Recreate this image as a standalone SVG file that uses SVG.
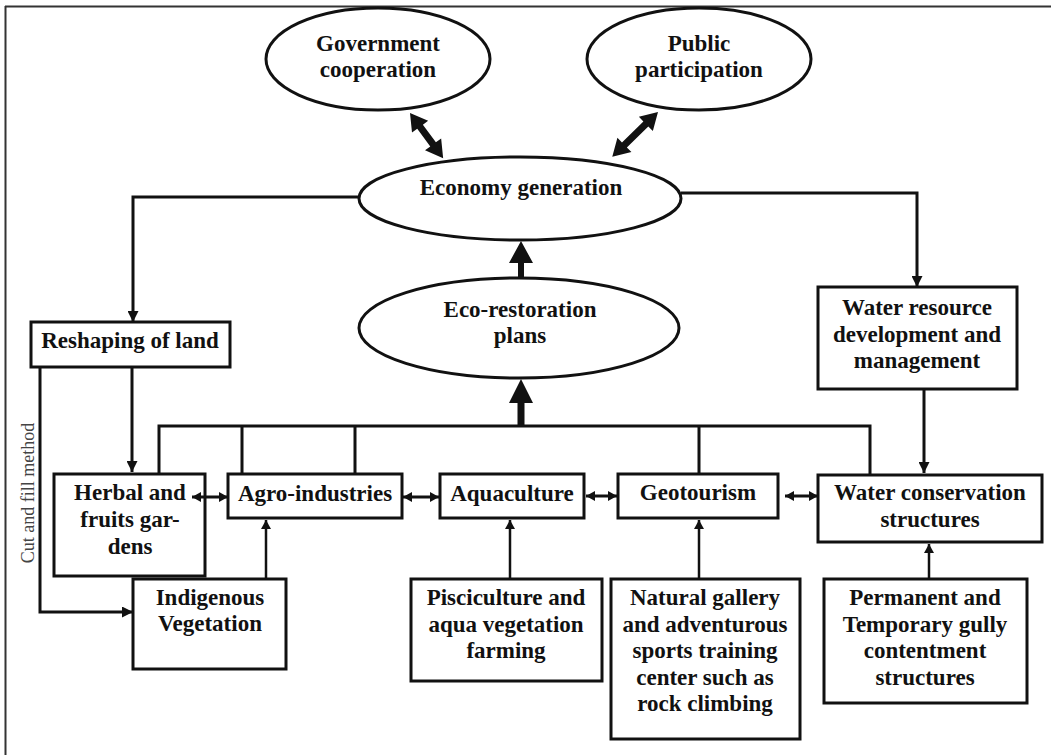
<svg xmlns="http://www.w3.org/2000/svg" width="1051" height="755" viewBox="0 0 1051 755">
<style>
.n{fill:#fff;stroke:#111;stroke-width:3}
.t{font-family:"Liberation Serif","Times New Roman",serif;font-weight:bold;font-size:23px;fill:#111;text-anchor:middle}
.c{fill:none;stroke:#111;stroke-width:3}
.c2{fill:none;stroke:#111;stroke-width:2.5}
.h{fill:#111;stroke:none}
</style>
<defs>
<marker id="a" markerUnits="userSpaceOnUse" markerWidth="11" markerHeight="11" refX="10" refY="5" orient="auto-start-reverse" viewBox="0 0 10 10">
<path d="M0,0 L10,5 L0,10 z" fill="#111"/>
</marker>
<marker id="s" markerUnits="userSpaceOnUse" markerWidth="9" markerHeight="10" refX="9" refY="5" orient="auto-start-reverse" viewBox="0 0 9 10">
<path d="M0,0 L9,5 L0,10 z" fill="#111"/>
</marker>
</defs>
<g id="frame">
<line x1="5" y1="6.5" x2="1051" y2="6.5" stroke="#333" stroke-width="2"/>
<line x1="5.5" y1="6" x2="5.5" y2="755" stroke="#333" stroke-width="2"/>
</g>
<g id="government">
<ellipse class="n" cx="378" cy="59" rx="112" ry="51"/>
<text class="t" x="378" y="51">Government</text>
<text class="t" x="378" y="77">cooperation</text>
</g>
<g id="public">
<ellipse class="n" cx="699" cy="59" rx="112" ry="51"/>
<text class="t" x="699" y="51">Public</text>
<text class="t" x="699" y="77">participation</text>
</g>
<g id="economy">
<ellipse class="n" cx="520" cy="198.5" rx="161" ry="41.5"/>
<text class="t" x="521" y="195">Economy generation</text>
</g>
<g id="eco-restoration">
<ellipse class="n" cx="519" cy="328" rx="160" ry="50"/>
<text class="t" x="520" y="317">Eco-restoration</text>
<text class="t" x="520" y="343">plans</text>
</g>
<g id="reshaping">
<rect class="n" x="31" y="322" width="199" height="45"/>
<text class="t" x="130" y="348">Reshaping of land</text>
</g>
<g id="water-resource">
<rect class="n" x="818" y="287" width="199" height="102"/>
<text class="t" x="917" y="315">Water resource</text>
<text class="t" x="917" y="342">development and</text>
<text class="t" x="917" y="368">management</text>
</g>
<g id="herbal">
<rect class="n" x="54" y="474" width="151" height="102"/>
<text class="t" x="130" y="500">Herbal and</text>
<text class="t" x="130" y="527">fruits gar-</text>
<text class="t" x="130" y="554">dens</text>
</g>
<g id="agro">
<rect class="n" x="228" y="474" width="174" height="44"/>
<text class="t" x="315" y="501">Agro-industries</text>
</g>
<g id="aquaculture">
<rect class="n" x="440" y="474" width="144" height="44"/>
<text class="t" x="512" y="501">Aquaculture</text>
</g>
<g id="geotourism">
<rect class="n" x="618" y="474" width="160" height="44"/>
<text class="t" x="698" y="500">Geotourism</text>
</g>
<g id="water-conservation">
<rect class="n" x="818" y="475" width="224" height="67"/>
<text class="t" x="930" y="500">Water conservation</text>
<text class="t" x="930" y="527">structures</text>
</g>
<g id="indigenous">
<rect class="n" x="133" y="579" width="153" height="90"/>
<text class="t" x="210" y="605">Indigenous</text>
<text class="t" x="210" y="631">Vegetation</text>
</g>
<g id="pisciculture">
<rect class="n" x="411" y="579" width="191" height="102"/>
<text class="t" x="506" y="605">Pisciculture and</text>
<text class="t" x="506" y="632">aqua vegetation</text>
<text class="t" x="506" y="658">farming</text>
</g>
<g id="natural-gallery">
<rect class="n" x="611" y="579" width="189" height="160"/>
<text class="t" x="705" y="605">Natural gallery</text>
<text class="t" x="705" y="632">and adventurous</text>
<text class="t" x="705" y="658">sports training</text>
<text class="t" x="705" y="685">center such as</text>
<text class="t" x="705" y="711">rock climbing</text>
</g>
<g id="permanent">
<rect class="n" x="824" y="579" width="203" height="124"/>
<text class="t" x="925" y="605">Permanent and</text>
<text class="t" x="925" y="632">Temporary gully</text>
<text class="t" x="925" y="658">contentment</text>
<text class="t" x="925" y="685">structures</text>
</g>
<g id="connectors">
<path class="c" d="M359,197 H133 V322" marker-end="url(#a)"/>
<path class="c" d="M681,193 H917 V287" marker-end="url(#a)"/>
<path class="c" d="M132,367 V472" marker-end="url(#a)"/>
<path class="c" d="M40,367 V612 H133" marker-end="url(#a)"/>
<path class="c" d="M924,389 V473" marker-end="url(#a)"/>
<path class="c" d="M159,474 V426 H870 V474"/>
<path class="c" d="M242,426 V474 M355,426 V474 M699,426 V474"/>
<path class="c2" d="M266,579 V520" marker-end="url(#s)"/>
<path class="c2" d="M510,579 V520" marker-end="url(#s)"/>
<path class="c2" d="M699,579 V520" marker-end="url(#s)"/>
<path class="c2" d="M929,579 V544" marker-end="url(#s)"/>
<path class="c" d="M192,497 H228" marker-start="url(#s)" marker-end="url(#s)"/>
<path class="c" d="M403,497 H439" marker-start="url(#s)" marker-end="url(#s)"/>
<path class="c" d="M586,496 H617" marker-start="url(#s)" marker-end="url(#s)"/>
<path class="c" d="M785,496 H818" marker-start="url(#s)" marker-end="url(#s)"/>
<polygon class="h" points="0,0 17,-10 17,-3.5 39,-3.5 39,-10 56,0 39,10 39,3.5 17,3.5 17,10" transform="translate(410,113) rotate(53.7)"/>
<polygon class="h" points="0,0 17,-10 17,-3.5 47,-3.5 47,-10 64,0 47,10 47,3.5 17,3.5 17,10" transform="translate(658,112) rotate(135.6)"/>
<polygon class="h" points="521,241 533,263 524,263 524,278 518,278 518,263 509,263"/>
<polygon class="h" points="521,379 533,403 524.5,403 524.5,426 517.5,426 517.5,403 509,403"/>
</g>
<text x="0" y="0" transform="translate(34,493) rotate(-90)" font-family="Liberation Serif,'Times New Roman',serif" font-size="18" fill="#444" text-anchor="middle">Cut and fill method</text>
</svg>
